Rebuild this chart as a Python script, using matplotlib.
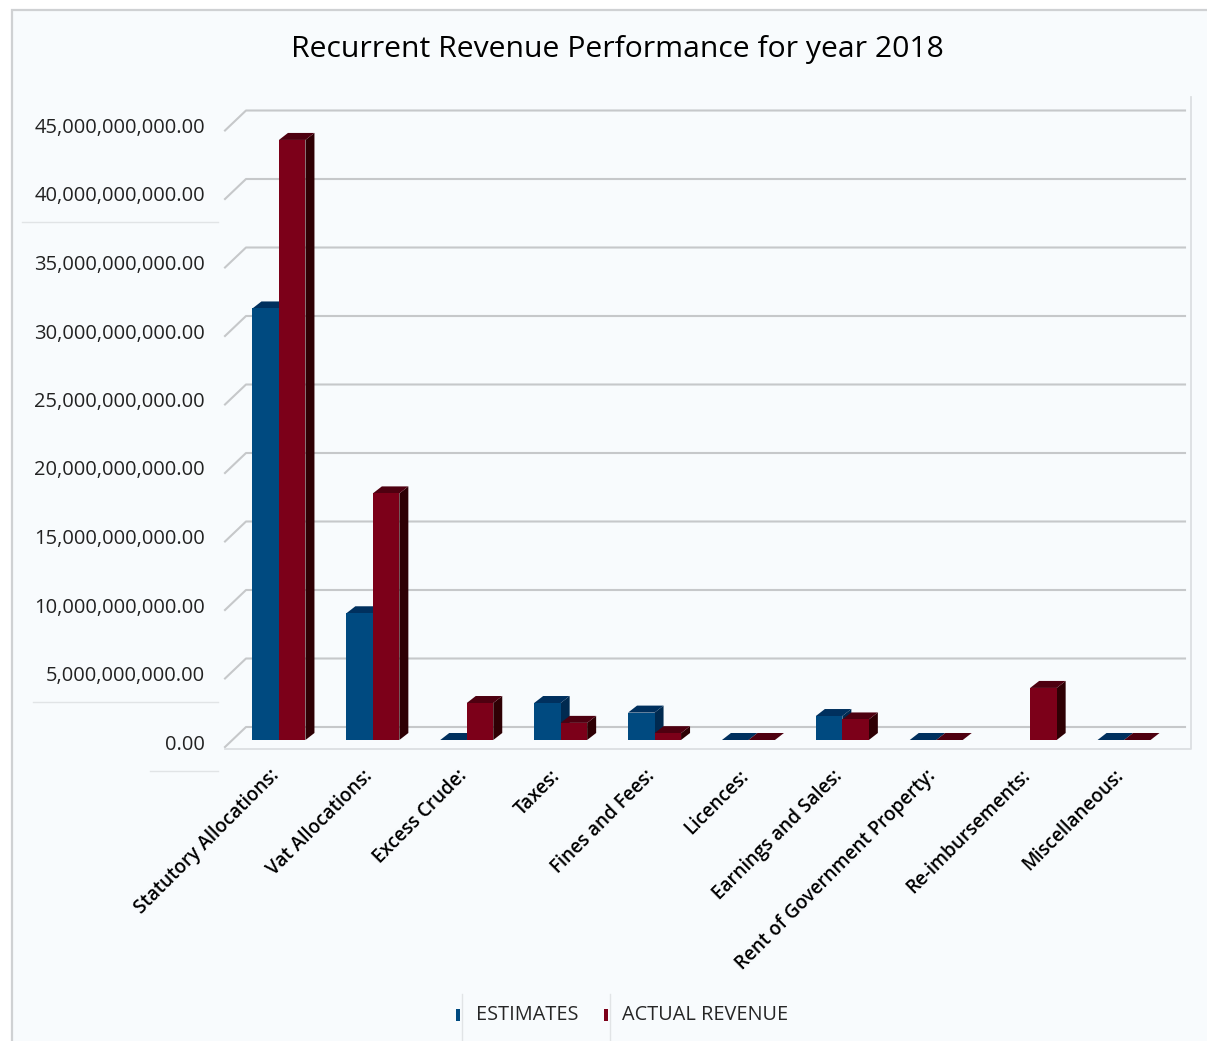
import numpy as np
import matplotlib
matplotlib.use("Agg")
import matplotlib.pyplot as plt
from matplotlib.patches import Polygon, Rectangle
from matplotlib.lines import Line2D

# chart data (in naira)
categories = ["Statutory Allocations:", "Vat Allocations:", "Excess Crude:", "Taxes:",
              "Fines and Fees:", "Licences:", "Earnings and Sales:",
              "Rent of Government Property:", "Re-imbursements:", "Miscellaneous:"]
estimates = [31.5e9, 9.25e9, 0.0, 2.7e9, 2.0e9, 0.0, 1.75e9, 0.0, np.nan, 0.0]
actual = [43.8e9, 18.0e9, 2.7e9, 1.25e9, 0.5e9, 0.0, 1.5e9, 0.0, 3.8e9, 0.0]
yticks = np.arange(0, 45e9 + 1, 5e9)
series_names = ["ESTIMATES", "ACTUAL REVENUE"]

W, H = 1207, 1041
FONT = "Open Sans"

# colours: front, top, side
blue = ("#004a80", "#00305e", "#002a50")
red = ("#7c0019", "#4e0010", "#2e0004")
grid_c = "#c6c8ca"

fig = plt.figure(figsize=(W / 100, H / 100), dpi=100, facecolor="white")

def fx(px):
    return px / W

def fy(py):
    return 1 - py / H

# chart area background (left/top border visible)
fig.patches.append(Rectangle((fx(12), -0.01), 1.02 - fx(12), fy(10) + 0.01,
                             transform=fig.transFigure, facecolor="#f8fbfd",
                             edgecolor="#cfd1d3", lw=1.6, zorder=-5))

# axes = front plane of the bars
left_px, right_px, bot_px, top_px = 232, 1171, 740, 123.5
ax = fig.add_axes([fx(left_px), fy(bot_px), (right_px - left_px) / W, (bot_px - top_px) / H])
ax.set_xlim(-0.5, 9.5)
ax.set_ylim(0, 45e9)
ax.axis("off")
ax.patch.set_alpha(0)

ux = 10 / (right_px - left_px)      # data units per pixel (x)
uy = 45e9 / (bot_px - top_px)       # data units per pixel (y)

# depth offsets in pixels
bdx, bdy = 9, 7        # bar depth
wdx, wdy = 14, 13      # back wall
fdx, fdy = -7, -7      # front floor edge
wall_right = -0.5 + (1185 - left_px) * ux

# gridlines on wall + diagonal to front
for v in yticks:
    xs = [-0.5 + fdx * ux, -0.5 + wdx * ux, wall_right]
    ys = [v + fdy * uy, v + wdy * uy, v + wdy * uy]
    ax.add_line(Line2D(xs, ys, color=grid_c, lw=1.5, zorder=1, clip_on=False))
    ax.text(-0.5 + (205 - left_px) * ux, v - 4.5 * uy, f"{v:,.2f}", ha="right", va="center",
            fontsize=14.5, family=FONT, color="#222222", clip_on=False)

# plot area frame: floor front line + right edge
ax.add_line(Line2D([-0.5 + fdx * ux, -0.5 + (1191 - left_px) * ux,
                    -0.5 + (1191 - left_px) * ux],
                   [-9 * uy, -9 * uy, (740 - 97) * uy],
                   color="#dcdfe2", lw=1.3, zorder=1, clip_on=False))

bw = 26.5 * ux

def bar3d(x0, h, cols):
    if np.isnan(h):
        return
    x1 = x0 + bw
    dx, dy = bdx * ux, bdy * uy
    front = Polygon([(x0, 0), (x1, 0), (x1, h), (x0, h)], closed=True,
                    facecolor=cols[0], edgecolor="none", zorder=3)
    top = Polygon([(x0, h), (x1, h), (x1 + dx, h + dy), (x0 + dx, h + dy)], closed=True,
                  facecolor=cols[1], edgecolor="none", zorder=3)
    side = Polygon([(x1, 0), (x1 + dx, dy), (x1 + dx, h + dy), (x1, h)], closed=True,
                   facecolor=cols[2], edgecolor="none", zorder=3)
    for p in (side, top, front):
        ax.add_patch(p)
        p.set_clip_on(False)

for i in range(len(categories)):
    bar3d(i - bw, estimates[i], blue)
    bar3d(i, actual[i], red)
    ax.text(i - 3 * ux, -33 * uy, categories[i], rotation=45, rotation_mode="anchor",
            ha="right", va="center", fontsize=13.6, family=FONT, color="black",
            fontweight="semibold", clip_on=False)

# title
fig.text(fx(617), fy(50), "Recurrent Revenue Performance for year 2018", ha="center",
         va="center", fontsize=21.7, family=FONT, color="black")

# faint label-box traces on the left
for y0, xa, xb in [(222, 22, 218), (702, 33, 218), (771, 150, 218)]:
    fig.add_artist(Line2D([fx(xa), fx(xb)], [fy(y0), fy(y0)], color="#e1e4e6", lw=1.0))

# legend
for k, (name, cols, mx, tx) in enumerate(zip(series_names, (blue, red), (456, 604), (476, 622))):
    fig.patches.append(Rectangle((fx(mx), fy(1021)), 4 / W, 12 / H, transform=fig.transFigure,
                                 facecolor=cols[0], edgecolor="none"))
    fig.text(fx(tx), fy(1015), name, ha="left", va="center", fontsize=14.3, family=FONT,
             color="#262626")
    fig.add_artist(Line2D([fx(mx + 6), fx(mx + 6)], [fy(994), fy(1041)], color="#e1e4e6", lw=1.0))

fig.savefig("out.png", dpi=100, facecolor=fig.get_facecolor())
